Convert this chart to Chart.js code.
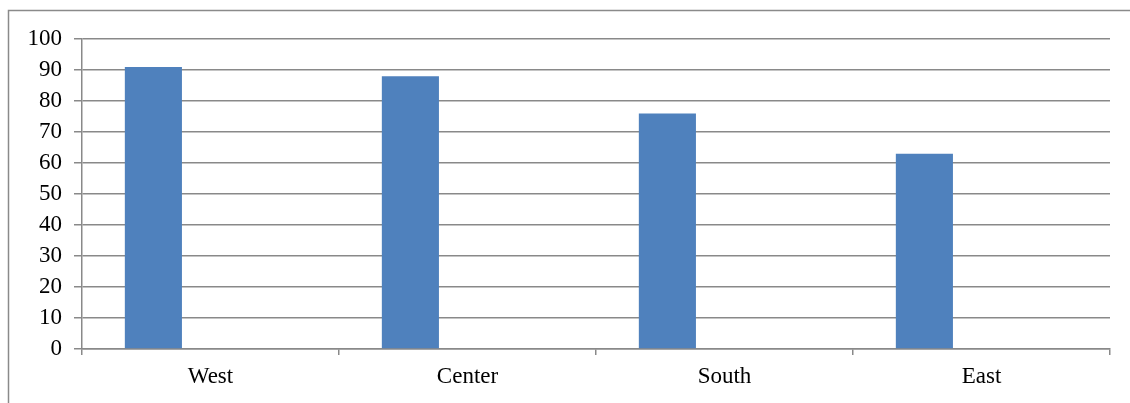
<!DOCTYPE html>
<html>
<head>
<meta charset="utf-8">
<script src="https://cdn.jsdelivr.net/npm/chart.js@4/dist/chart.umd.min.js"></script>
<style>
    html, body { margin: 0; padding: 0; background: #fff; }
    #wrap { width: 1130px; height: 403px; position: relative; }
</style>
</head>
<body>
<div id="wrap"><canvas id="myChart"></canvas></div>
<script>
const regiones = ["West", "Center", "South", "East"];
const serie1 = [91, 88, 76, 63];
// las otras dos series estan vacias, solo ocupan su hueco
const serie2 = [null, null, null, null];
const serie3 = [null, null, null, null];
const ticksY = [0, 10, 20, 30, 40, 50, 60, 70, 80, 90, 100];

const gris = "#898989";
const fuente = { family: "'Liberation Serif', 'Times New Roman', serif", size: 23 };

// marco del grafico (recortado arriba a la izquierda)
const marco = {
    id: "marco",
    beforeDraw(chart) {
        const c = chart.ctx;
        c.save();
        c.strokeStyle = "#8a8a8a";
        c.lineWidth = 1.5;
        c.beginPath();
        c.moveTo(8.5, 403);
        c.lineTo(8.5, 10.5);
        c.lineTo(1130, 10.5);
        c.stroke();
        c.restore();
    }
};

const ctx = document.getElementById('myChart').getContext('2d');

new Chart(ctx, {
    type: "bar",
    data: {
        labels: regiones,
        datasets: [
            { label: "Serie 1", data: serie1, backgroundColor: "#4f81bd" },
            { label: "Serie 2", data: serie2, backgroundColor: "#c0504d" },
            { label: "Serie 3", data: serie3, backgroundColor: "#9bbb59" },
        ],
    },
    options: {
        responsive: true,
        maintainAspectRatio: false,
        animation: false,
        categoryPercentage: 3 / 4.5,
        barPercentage: 1,
        layout: {
            padding: { left: 0, right: 20, top: 39, bottom: 0 },
        },
        plugins: {
            legend: { display: false },
            tooltip: { enabled: false },
        },
        scales: {
            x: {
                afterFit: (s) => { s.height = 54; },
                grid: {
                    offset: true,
                    drawOnChartArea: false,
                    drawTicks: true,
                    tickLength: 6,
                    color: gris,
                    lineWidth: 1.5,
                },
                border: { color: gris, width: 1.5 },
                ticks: {
                    color: "#000",
                    font: fuente,
                    padding: 8,
                },
            },
            y: {
                min: 0,
                max: 100,
                afterFit: (s) => { s.width = 82; },
                afterBuildTicks: (s) => { s.ticks = ticksY.map(v => ({ value: v })); },
                grid: {
                    color: gris,
                    lineWidth: 1.5,
                    tickLength: 8,
                },
                border: { color: gris, width: 1.5 },
                ticks: {
                    color: "#000",
                    font: fuente,
                    padding: 12,
                },
            },
        },
    },
    plugins: [marco],
});
</script>
</body>
</html>
